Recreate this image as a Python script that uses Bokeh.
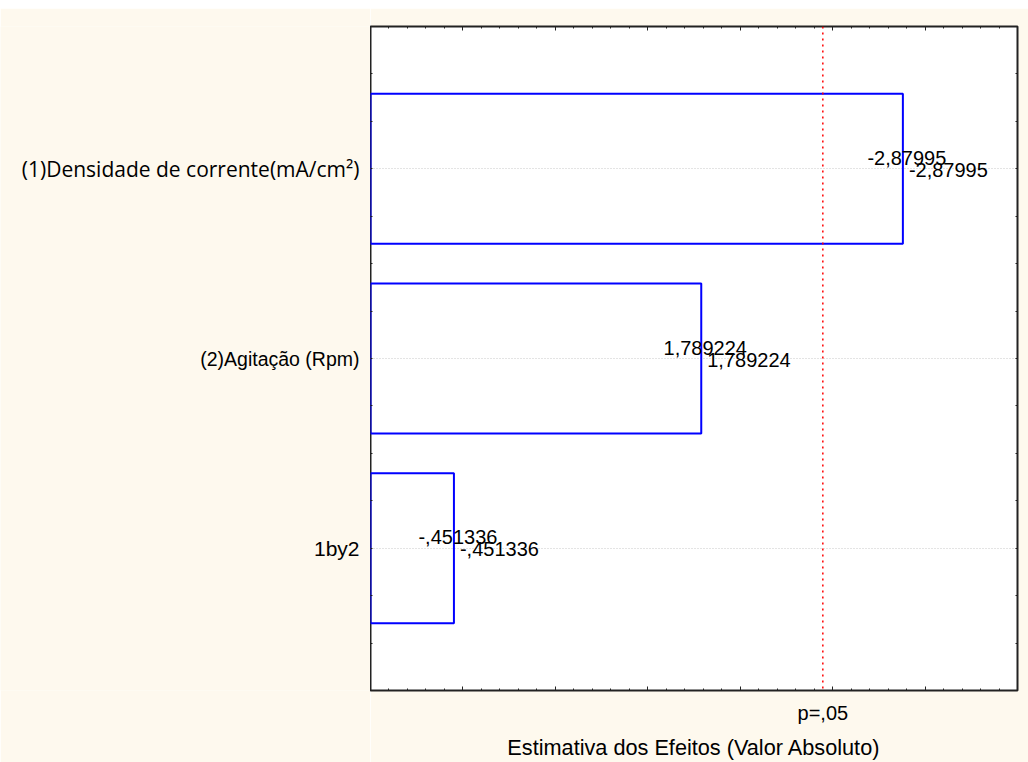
from bokeh.plotting import figure
from bokeh.models import (Range1d, LinearAxis, FixedTicker, Span, Label, Spacer,
                          ColumnDataSource, CustomJSTickFormatter)
from bokeh.layouts import column, row
from bokeh.embed import file_html
from bokeh.resources import INLINE
import json

# ---- data -------------------------------------------------------------
factors = ["(1)Densidade de corrente(mA/cm²)", "(2)Agitação (Rpm)", "1by2"]
effects = [-2.87995, 1.789224, -0.451336]
positions = [1, 2, 3]
p_crit = 2.446912
p_label = "p=,05"
x_title = "Estimativa dos Efeitos (Valor Absoluto)"
x_major = [0.0, 0.5, 1.0, 1.5, 2.0, 2.5, 3.0, 3.5]
x_minor = [round(i * 0.1, 1) for i in range(0, 36)]
y_ticks = [0.25, 0.5, 0.75, 1.0, 1.25, 1.5, 1.75, 2.0, 2.25, 2.5, 2.75, 3.0,
           3.25, 3.5, 3.75]

# ---- styles -----------------------------------------------------------
factor_fonts = ["Open Sans", "Liberation Sans", "Liberation Sans"]
factor_sizes = ["21px", "19.5px", "21px"]
CREAM = "#FEF9EE"
FRAME = "#222222"
LEFT_W = 370
TOP_B = 18
BOTTOM_B = 72
FIG_H = 754


def fmt(v):
    s = f"{v:.7g}"
    if s.startswith("-0."):
        s = "-" + s[2:]
    elif s.startswith("0."):
        s = s[1:]
    return s.replace(".", ",")


abs_eff = [abs(v) for v in effects]
labels = [fmt(v) for v in effects]
src = ColumnDataSource(dict(y=positions, right=abs_eff, left=[0] * len(positions)))

y_range = Range1d(3.75, 0.25)

# ---- left panel with the factor names ---------------------------------
pl = figure(width=LEFT_W, height=FIG_H, x_range=Range1d(0, 1), y_range=y_range,
            output_backend="svg", toolbar_location=None,
            x_axis_location=None, y_axis_location=None,
            min_border_left=0, min_border_right=0, min_border_top=TOP_B,
            min_border_bottom=BOTTOM_B, background_fill_color=CREAM,
            border_fill_color=CREAM, outline_line_color=None)
pl.grid.visible = False
name_src = ColumnDataSource(dict(x=[1] * len(positions), y=positions, text=factors,
                                 font=factor_fonts, size=factor_sizes))
pl.text(x="x", y="y", text="text", source=name_src, x_offset=-11,
        text_align="right", text_baseline="middle", text_font="font",
        text_font_size="size", text_color="black")

# ---- main chart ---------------------------------------------------------
p = figure(width=1028 - LEFT_W, height=FIG_H, x_range=Range1d(0, 3.5), y_range=y_range,
           output_backend="svg", toolbar_location=None,
           min_border_left=0, min_border_right=11, min_border_top=TOP_B,
           min_border_bottom=BOTTOM_B,
           background_fill_color="white", border_fill_color=CREAM,
           outline_line_color=FRAME, outline_line_width=2)

xt = FixedTicker(ticks=x_major, minor_ticks=x_minor)
yt = FixedTicker(ticks=y_ticks)


def hide_labels(ax):
    ax.major_label_text_color = None
    ax.major_label_text_font_size = "1px"
    ax.major_label_standoff = 0


def style_x(ax):
    ax.ticker = xt
    ax.axis_line_color = None
    hide_labels(ax)
    ax.major_tick_in = 4
    ax.major_tick_out = 0
    ax.minor_tick_in = 2
    ax.minor_tick_out = 0
    ax.major_tick_line_color = FRAME
    ax.minor_tick_line_color = FRAME


def style_y(ax):
    ax.ticker = yt
    ax.axis_line_color = None
    hide_labels(ax)
    ax.major_tick_in = 2
    ax.major_tick_out = 0
    ax.minor_tick_line_color = None
    ax.major_tick_line_color = FRAME


style_x(p.xaxis[0])
style_y(p.yaxis[0])
top = LinearAxis()
style_x(top)
p.add_layout(top, "above")
right = LinearAxis()
style_y(right)
p.add_layout(right, "right")

# p label + title axis
pax = LinearAxis(ticker=FixedTicker(ticks=[p_crit]),
                 formatter=CustomJSTickFormatter(code="return " + json.dumps(p_label) + ";"),
                 axis_label=x_title)
pax.axis_line_color = None
pax.major_tick_line_color = None
pax.minor_tick_line_color = None
pax.major_tick_in = 0
pax.major_tick_out = 0
pax.major_label_text_font = "Liberation Sans"
pax.major_label_text_font_size = "20px"
pax.major_label_text_color = "black"
pax.major_label_standoff = 11
pax.axis_label_text_font = "Liberation Sans"
pax.axis_label_text_font_size = "21.7px"
pax.axis_label_text_font_style = "normal"
pax.axis_label_text_color = "black"
pax.axis_label_standoff = 8
p.add_layout(pax, "below")

p.xgrid.visible = False
p.ygrid[0].ticker = FixedTicker(ticks=positions)
p.ygrid[0].grid_line_color = "#c8c8c8"
p.ygrid[0].grid_line_dash = "1 2"
p.ygrid[0].grid_line_width = 1

p.hbar(y="y", left="left", right="right", height=0.79, source=src,
       fill_color=None, line_color="#0000FF", line_width=2)

p.add_layout(Span(location=p_crit, dimension="height", line_color="red",
                  line_dash="2 4", line_width=1.5))

for pos, val, txt in zip(positions, abs_eff, labels):
    p.add_layout(Label(x=val, y=pos, x_offset=4, y_offset=11, text=txt, text_align="center",
                       text_baseline="middle", text_font="Liberation Sans",
                       text_font_size="20px", text_color="black"))
    p.add_layout(Label(x=val, y=pos, x_offset=6, y_offset=-1, text=txt, text_align="left",
                       text_baseline="middle", text_font="Liberation Sans",
                       text_font_size="20px", text_color="black"))

layout = column(Spacer(width=1028, height=8), row(pl, p))
open("out.html", "w").write(file_html(layout, INLINE))
